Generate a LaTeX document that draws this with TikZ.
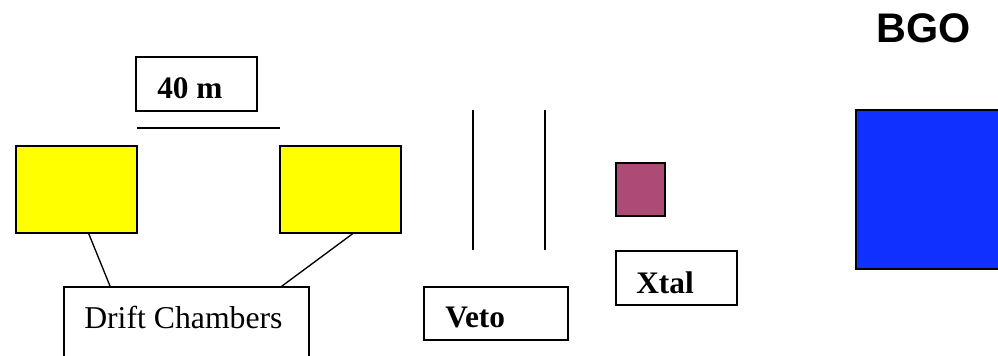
\documentclass[tikz,border=0pt]{standalone}
\usepackage{fontspec}
\setmainfont{Liberation Serif}
\newfontfamily\headfont{Liberation Sans}
\usetikzlibrary{fit,calc}
\definecolor{chamber}{RGB}{255,255,0}
\definecolor{xtalfill}{RGB}{173,74,117}
\definecolor{bgofill}{RGB}{16,48,255}
\tikzset{
  box/.style={draw=black, line width=1pt, inner sep=0pt},
  label/.style={anchor=base west, inner sep=0pt, font=\fontsize{24}{28}\selectfont},
  boldlabel/.style={label, font=\fontsize{23.5}{28}\selectfont\bfseries},
  wire/.style={draw=black, line width=1pt}
}
\begin{document}
\begin{tikzpicture}[x=0.75pt, y=-0.75pt]
\useasboundingbox[fill=white] (0,0) rectangle (998,355);

% scale bar with its label
\node[box, fit={(136,57) (257,111)}] (scalebox) {};
\node[boldlabel] (scaletext) at (157,98) {40 m};
\coordinate (barL) at (137,128);
\coordinate (barR) at (280,128);
\draw[wire] (barL) -- (barR);

% drift chambers
\node[box, fill=chamber, fit={(16,146) (137,233)}] (dcA) {};
\node[box, fill=chamber, fit={(280,146) (401,233)}] (dcB) {};
\node[box, fit={(64,287) (309,370)}] (dcLabel) {};
\node[label, font=\fontsize{23.8}{28}\selectfont] (dcText) at (84,328) {Drift Chambers};
\draw[wire] ($(dcA.south west)!0.6!(dcA.south east)$) -- ($(dcLabel.north west)!0.19!(dcLabel.north east)$);
\draw[wire] ($(dcB.south west)!0.6!(dcB.south east)$) -- ($(dcLabel.north west)!0.886!(dcLabel.north east)$);

% veto counters
\coordinate (vA1) at (473,110);
\coordinate (vA2) at (473,250);
\coordinate (vB1) at (545,110);
\coordinate (vB2) at (545,250);
\draw[wire] (vA1) -- (vA2);
\draw[wire] (vB1) -- (vB2);
\node[box, fit={(424,287) (568,340)}] (vetoBox) {};
\node[boldlabel] (vetoText) at (445,327) {Veto};

% crystal
\node[box, fill=xtalfill, fit={(616,163) (665,216)}] (xtal) {};
\node[box, fit={(616,251) (737,305)}] (xtalBox) {};
\node[boldlabel] (xtalText) at (636,293) {Xtal};

% BGO calorimeter
\node[box, fill=bgofill, fit={(856,110) (1010,269)}] (bgo) {};
\node[label, font=\fontsize{31}{36}\headfont\bfseries] (bgoText) at (876,42) {BGO};
\end{tikzpicture}
\end{document}
